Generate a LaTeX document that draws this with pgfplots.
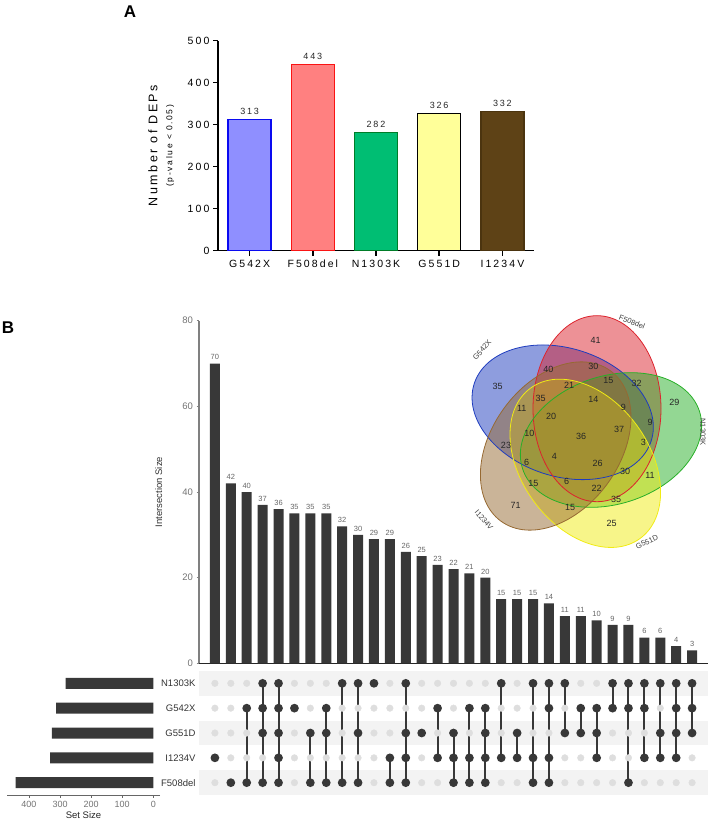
\documentclass[border=0pt]{standalone}
\usepackage{fontspec}
\setmainfont{Liberation Sans}
\newfontfamily\prism[LetterSpace=20]{Liberation Sans}
\usepackage{pgfplots}
\usepackage{pgfplotstable}
\pgfplotsset{compat=1.18}

\definecolor{aBlueF}{RGB}{143,143,255}
\definecolor{aBlueE}{RGB}{10,10,240}
\definecolor{aRedF}{RGB}{255,128,128}
\definecolor{aRedE}{RGB}{250,20,20}
\definecolor{aGreenF}{RGB}{0,190,115}
\definecolor{aGreenE}{RGB}{0,125,40}
\definecolor{aYelF}{RGB}{255,255,153}
\definecolor{aBrownF}{RGB}{94,66,22}
\definecolor{aBrownE}{RGB}{75,52,15}
\definecolor{barc}{RGB}{56,56,56}
\definecolor{stripe}{RGB}{243,243,243}
\definecolor{dotoff}{RGB}{222,222,222}
\definecolor{vBlue}{RGB}{30,60,190}
\definecolor{vRed}{RGB}{220,35,45}
\definecolor{vGreen}{RGB}{40,175,40}
\definecolor{vYel}{RGB}{240,235,20}
\definecolor{vBrown}{RGB}{150,105,50}

\pgfplotstableread{
x v
1 70
2 42
3 40
4 37
5 36
6 35
7 35
8 35
9 32
10 30
11 29
12 29
13 26
14 25
15 23
16 22
17 21
18 20
19 15
20 15
21 15
22 14
23 11
24 11
25 10
26 9
27 9
28 6
29 6
30 4
31 3
}\inter

\pgfplotstableread{
x r1 r2 r3 r4 r5
1 1 2 3 4 5
2 1 2 3 4 5
3 1 2 3 4 5
4 1 2 3 4 5
5 1 2 3 4 5
6 1 2 3 4 5
7 1 2 3 4 5
8 1 2 3 4 5
9 1 2 3 4 5
10 1 2 3 4 5
11 1 2 3 4 5
12 1 2 3 4 5
13 1 2 3 4 5
14 1 2 3 4 5
15 1 2 3 4 5
16 1 2 3 4 5
17 1 2 3 4 5
18 1 2 3 4 5
19 1 2 3 4 5
20 1 2 3 4 5
21 1 2 3 4 5
22 1 2 3 4 5
23 1 2 3 4 5
24 1 2 3 4 5
25 1 2 3 4 5
26 1 2 3 4 5
27 1 2 3 4 5
28 1 2 3 4 5
29 1 2 3 4 5
30 1 2 3 4 5
31 1 2 3 4 5
}\grid

\pgfplotstableread{
x y lab
595.7 340 41
548.3 369.3 40
593.3 366 30
608.3 380 15
636.7 383.3 32
497.7 386 35
569 385 21
540.7 398.3 35
593.3 399.3 14
623.3 407.7 9
674.3 402.7 29
521.7 408.3 11
551 416.7 20
650 422.7 9
619 429 37
529.3 433.3 10
581 436.7 36
643.3 442.7 3
506 445 23
554.3 456.7 4
526.7 462.7 6
597.7 463.3 26
625 471 30
650 475.7 11
533.3 483.3 15
566.7 481.7 6
596.7 488.3 22
616 499 35
515.7 505 71
570 507.3 15
611.7 523.3 25
}\venn

\begin{document}
\begin{tikzpicture}[x=1pt,y=1pt]
\path[use as bounding box] (0,0) rectangle (710,820);
\node[font=\bfseries\fontsize{17}{17}\selectfont] at (130,808) {A};
\node[font=\bfseries\fontsize{17}{17}\selectfont] at (8,492.5) {B};

% ---------------- Panel A ----------------
\begin{axis}[
  at={(218pt,569.3pt)}, anchor=south west, scale only axis,
  width=316pt, height=210pt,
  xmin=0.5, xmax=5.5, ymin=0, ymax=500,
  axis x line*=bottom, axis y line*=left,
  axis line style={line width=1.6pt},
  every tick/.style={black, line width=1.6pt},
  tick align=outside, major tick length=5pt,
  xtick={1,2,3,4,5},
  xticklabels={G542X,F508del,N1303K,G551D,I1234V},
  ytick={0,100,200,300,400,500},
  /pgf/number format/assume math mode=true,
  xticklabel style={font=\prism\fontsize{10.5}{12}\selectfont, yshift=-1pt},
  yticklabel style={font=\prism\fontsize{10.5}{12}\selectfont},
  ylabel={{\prism\fontsize{12.5}{14}\selectfont Number of DEPs}\\[3pt]{\prism\fontsize{8.5}{10}\selectfont (p-value < 0.05)}},
  ylabel style={align=center, at={(axis description cs:-0.18,0.5)}, anchor=center},
  nodes near coords,
  every node near coord/.append style={font=\prism\fontsize{9}{10}\selectfont, text=black!85, yshift=1pt},
  ybar, bar width=43pt,
]
\addplot[fill=aBlueF, draw=aBlueE, line width=1.4pt, bar shift=0pt] coordinates {(1,313)};
\addplot[fill=aRedF, draw=aRedE, line width=1.4pt, bar shift=0pt] coordinates {(2,443)};
\addplot[fill=aGreenF, draw=aGreenE, line width=1.4pt, bar shift=0pt] coordinates {(3,282)};
\addplot[fill=aYelF, draw=black, line width=1.4pt, bar shift=0pt] coordinates {(4,326)};
\addplot[fill=aBrownF, draw=aBrownE, line width=1.4pt, bar shift=0pt] coordinates {(5,332)};
\end{axis}

% ---------------- Panel B: intersection bars ----------------
\begin{axis}[
  at={(199pt,156.7pt)}, anchor=south west, scale only axis,
  width=509pt, height=342.6pt,
  xmin=0, xmax=32, ymin=0, ymax=80,
  axis x line*=bottom, axis y line*=left,
  x axis line style={draw=black!85, line width=1.1pt},
  y axis line style={draw=black!50, line width=1.1pt},
  xtick=\empty, ytick={0,20,40,60,80},
  tick align=outside, major tick length=2.5pt,
  ytick style={black!50, line width=0.8pt},
  /pgf/number format/assume math mode=true,
  yticklabel style={font=\fontsize{9.5}{11}\selectfont, text=black!55},
  ylabel={Intersection Size},
  ylabel style={font=\fontsize{9.5}{11}\selectfont, text=black!80, at={(axis description cs:-0.079,0.5)}, anchor=center},
  ybar, bar width=10pt,
  nodes near coords,
  every node near coord/.append style={font=\fontsize{7.5}{8}\selectfont, text=black!60},
]
\addplot[fill=barc, draw=none] table[x=x,y=v] {\inter};
\end{axis}

% ---------------- Panel B: matrix ----------------
\begin{axis}[
  at={(199pt,24.9pt)}, anchor=south west, scale only axis,
  width=509pt, height=124.2pt,
  xmin=0, xmax=32, ymin=0.5, ymax=5.5,
  axis line style={draw=none},
  xtick=\empty, ytick={1,2,3,4,5},
  yticklabels={F508del,I1234V,G551D,G542X,N1303K},
  major tick length=0pt,
  yticklabel style={font=\fontsize{9.5}{11}\selectfont, text=black!80},
  unbounded coords=jump,
]
\addplot[fill=stripe, draw=none] coordinates {(0,0.5) (32,0.5) (32,1.5) (0,1.5)} -- cycle;
\addplot[fill=stripe, draw=none] coordinates {(0,2.5) (32,2.5) (32,3.5) (0,3.5)} -- cycle;
\addplot[fill=stripe, draw=none] coordinates {(0,4.5) (32,4.5) (32,5.5) (0,5.5)} -- cycle;
\addplot[only marks, mark=*, mark size=3.3pt, color=dotoff] table[x=x,y=r1] {\grid};
\addplot[only marks, mark=*, mark size=3.3pt, color=dotoff] table[x=x,y=r2] {\grid};
\addplot[only marks, mark=*, mark size=3.3pt, color=dotoff] table[x=x,y=r3] {\grid};
\addplot[only marks, mark=*, mark size=3.3pt, color=dotoff] table[x=x,y=r4] {\grid};
\addplot[only marks, mark=*, mark size=3.3pt, color=dotoff] table[x=x,y=r5] {\grid};
\addplot[color=barc, line width=2pt, mark=*, mark size=3.3pt] coordinates {
(1,2) (1,nan)
(2,1) (2,nan)
(3,4) (3,1) (3,nan)
(4,5) (4,4) (4,3) (4,1) (4,nan)
(5,5) (5,4) (5,3) (5,2) (5,1) (5,nan)
(6,4) (6,nan)
(7,3) (7,1) (7,nan)
(8,4) (8,3) (8,1) (8,nan)
(9,5) (9,1) (9,nan)
(10,5) (10,3) (10,1) (10,nan)
(11,5) (11,nan)
(12,2) (12,1) (12,nan)
(13,5) (13,3) (13,2) (13,1) (13,nan)
(14,3) (14,nan)
(15,4) (15,2) (15,nan)
(16,3) (16,2) (16,1) (16,nan)
(17,4) (17,2) (17,1) (17,nan)
(18,4) (18,3) (18,2) (18,1) (18,nan)
(19,5) (19,2) (19,nan)
(20,3) (20,2) (20,nan)
(21,5) (21,2) (21,1) (21,nan)
(22,5) (22,4) (22,2) (22,1) (22,nan)
(23,5) (23,3) (23,nan)
(24,4) (24,3) (24,nan)
(25,4) (25,3) (25,2) (25,nan)
(26,5) (26,4) (26,nan)
(27,5) (27,4) (27,1) (27,nan)
(28,5) (28,4) (28,2) (28,nan)
(29,5) (29,3) (29,2) (29,nan)
(30,5) (30,4) (30,3) (30,2) (30,nan)
(31,5) (31,4) (31,3)
};
\end{axis}

% ---------------- Panel B: set sizes ----------------
\begin{axis}[
  at={(7pt,24.9pt)}, anchor=south west, scale only axis,
  width=153pt, height=124.2pt,
  x dir=reverse, xmin=-21.6, xmax=470.7, ymin=0.5, ymax=5.5,
  axis x line*=bottom, axis y line=none,
  x axis line style={draw=black!60, line width=0.9pt},
  xtick={0,100,200,300,400}, ytick=\empty,
  tick align=outside, major tick length=2.5pt,
  xtick style={black!60, line width=0.8pt},
  /pgf/number format/assume math mode=true,
  xticklabel style={font=\fontsize{9}{10}\selectfont, text=black!55},
  xlabel={Set Size},
  xlabel style={font=\fontsize{9.5}{10}\selectfont, text=black!85, yshift=3pt},
  xbar, bar width=11pt,
]
\addplot[fill=barc, draw=none] coordinates {(443,1) (332,2) (326,3) (313,4) (282,5)};
\end{axis}

% ---------------- Panel B: Venn ----------------
\begin{axis}[
  at={(420pt,230pt)}, anchor=south west, scale only axis,
  width=290pt, height=280pt,
  xmin=420, xmax=710, ymin=310, ymax=590, y dir=reverse,
  hide axis, clip=false,
]
\fill[vBlue, fill opacity=0.5, rotate around={-18:(axis cs:562.7,412.3)}] (axis cs:562.7,412.3) ellipse [x radius=93pt, y radius=64pt];
\fill[vRed, fill opacity=0.5, rotate around={90:(axis cs:597,408.7)}] (axis cs:597,408.7) ellipse [x radius=93pt, y radius=64pt];
\fill[vGreen, fill opacity=0.5, rotate around={18:(axis cs:611,440)}] (axis cs:611,440) ellipse [x radius=93pt, y radius=64pt];
\fill[vYel, fill opacity=0.5, rotate around={-54:(axis cs:585.3,463.3)}] (axis cs:585.3,463.3) ellipse [x radius=93pt, y radius=64pt];
\fill[vBrown, fill opacity=0.5, rotate around={54:(axis cs:555.7,446)}] (axis cs:555.7,446) ellipse [x radius=93pt, y radius=64pt];
\draw[vBlue, line width=0.8pt, rotate around={-18:(axis cs:562.7,412.3)}] (axis cs:562.7,412.3) ellipse [x radius=93pt, y radius=64pt];
\draw[vRed, line width=0.8pt, rotate around={90:(axis cs:597,408.7)}] (axis cs:597,408.7) ellipse [x radius=93pt, y radius=64pt];
\draw[vGreen, line width=0.8pt, rotate around={18:(axis cs:611,440)}] (axis cs:611,440) ellipse [x radius=93pt, y radius=64pt];
\draw[vYel, line width=0.8pt, rotate around={-54:(axis cs:585.3,463.3)}] (axis cs:585.3,463.3) ellipse [x radius=93pt, y radius=64pt];
\draw[vBrown, line width=0.8pt, rotate around={54:(axis cs:555.7,446)}] (axis cs:555.7,446) ellipse [x radius=93pt, y radius=64pt];
\addplot[only marks, mark=none, nodes near coords, point meta=explicit symbolic,
  every node near coord/.append style={anchor=center, font=\fontsize{9}{10}\selectfont, text=black!85}]
  table[x=x, y=y, meta=lab] {\venn};
\node[rotate=48, font=\fontsize{7.5}{8}\selectfont, text=black!75] at (axis cs:482,350) {G542X};
\node[rotate=-22, font=\fontsize{7.5}{8}\selectfont, text=black!75] at (axis cs:632,322) {F508del};
\node[rotate=-90, font=\fontsize{7.5}{8}\selectfont, text=black!75] at (axis cs:703,432) {N1303K};
\node[rotate=25, font=\fontsize{7.5}{8}\selectfont, text=black!75] at (axis cs:647,542) {G551D};
\node[rotate=-50, font=\fontsize{7.5}{8}\selectfont, text=black!75] at (axis cs:484,520) {I1234V};
\end{axis}
\end{tikzpicture}
\end{document}
